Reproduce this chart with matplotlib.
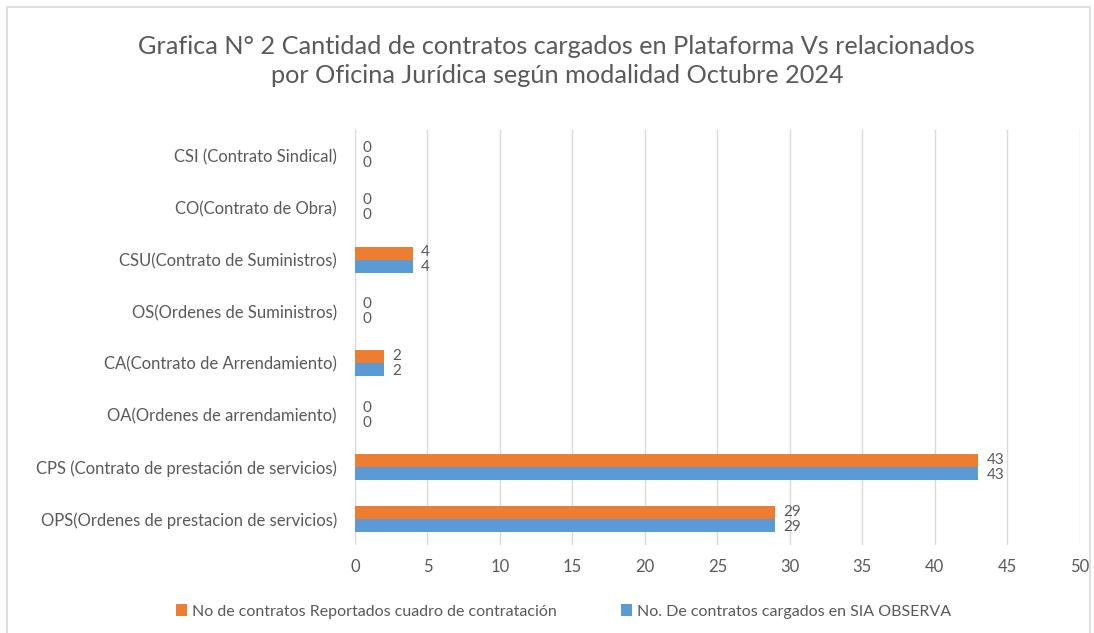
import matplotlib.pyplot as plt
from matplotlib.patches import Rectangle
import numpy as np

plt.rcParams['font.family'] = ['Lato', 'DejaVu Sans']

# data (bottom to top, as drawn)
categorias = ['OPS(Ordenes de prestacion de servicios)',
              'CPS (Contrato de prestación de servicios)',
              'OA(Ordenes de arrendamiento)',
              'CA(Contrato de Arrendamiento)',
              'OS(Ordenes de Suministros)',
              'CSU(Contrato de Suministros)',
              'CO(Contrato de Obra)',
              'CSI (Contrato Sindical)']
reportados = [29, 43, 0, 2, 0, 4, 0, 0]
cargados_sia = [29, 43, 0, 2, 0, 4, 0, 0]
serie_rep = 'No de contratos Reportados cuadro de contratación'
serie_sia = 'No. De contratos cargados en SIA OBSERVA'

naranja = '#ED7D31'
azul = '#5B9BD5'
gris = '#595959'

fig = plt.figure(figsize=(10.94, 6.33), dpi=100)
ax = fig.add_axes([0.3245, 0.139, 0.6625, 0.656])

y = np.arange(len(categorias))
h = 0.25
b1 = ax.barh(y + h / 2, reportados, height=h, color=naranja, label=serie_rep)
b2 = ax.barh(y - h / 2, cargados_sia, height=h, color=azul, label=serie_sia)

# value labels, nudged apart a little so the pairs don't collide
for bars, vals, dy in ((b1, reportados, 0.02), (b2, cargados_sia, -0.02)):
    for rect, v in zip(bars, vals):
        ax.text(v + 0.55, rect.get_y() + rect.get_height() / 2 + dy, str(v),
                va='center', ha='left', fontsize=11, color=gris)

ax.set_xlim(0, 50)
ax.set_ylim(-0.5, len(categorias) - 0.5)
ax.set_xticks(range(0, 51, 5))
ax.set_yticks(y)
ax.set_yticklabels(categorias)
ax.tick_params(length=0, labelsize=12, colors=gris)
ax.tick_params(axis='y', pad=13)
ax.tick_params(axis='x', pad=10)
ax.grid(axis='x', color='#D9D9D9', linewidth=1)
ax.set_axisbelow(True)
for s in ax.spines.values():
    s.set_visible(False)

fig.suptitle('Grafica N° 2 Cantidad de contratos cargados en Plataforma Vs relacionados\n'
             'por Oficina Jurídica según modalidad Octubre 2024',
             x=0.509, y=0.945, fontsize=18.2, color=gris, linespacing=1.3)

fig.legend(handles=[b1, b2], loc='lower center', bbox_to_anchor=(0.515, 0.0),
           ncol=2, frameon=False, fontsize=11.5, labelcolor=gris,
           handlelength=0.7, handleheight=0.7, handletextpad=0.3, columnspacing=4)

# chart border like the Excel frame
fig.patches.append(Rectangle((7 / 1094, -0.1), (1090 - 7) / 1094, 1 - 7 / 633 + 0.1,
                             transform=fig.transFigure, fill=False,
                             edgecolor='#D9D9D9', linewidth=1.2))

fig.savefig('out.png', dpi=100)
